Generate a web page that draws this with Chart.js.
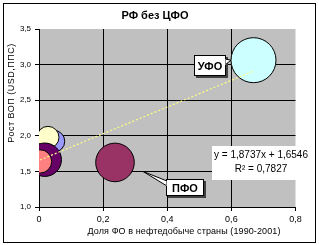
<!DOCTYPE html>
<html>
<head>
<meta charset="utf-8">
<script src="https://cdn.jsdelivr.net/npm/chart.js@4.4.1/dist/chart.umd.min.js"></script>
<style>
  html, body { margin: 0; padding: 0; background: #fff; }
  #wrap { width: 319px; height: 245px; }
</style>
</head>
<body>
<div id="wrap"><canvas id="chart" width="319" height="245"></canvas></div>
<script>
// bubbles, listed from the back to the front
const districts = ['СФО', 'УФО', 'ПФО', 'СЗФО', 'ЮФО', 'ДФО'];
const oilShare = [0.046, 0.669, 0.237, 0.028, 0.018, 0.003];
const grpGrowth = [1.923, 3.062, 1.626, 1.978, 1.664, 1.640];
const bubbleSize = [11, 22.5, 19.3, 11, 16.7, 11.7];
const bubbleColors = ['#9999FF', '#CCFFFF', '#993366', '#FFFFCC', '#660066', '#FF8080'];
const labelled = ['УФО', 'ПФО'];

// linear trend shown on the chart
const trendSlope = 1.8737;
const trendIntercept = 1.6546;
const trendR2 = 0.7827;

const xTicks = [0, 0.2, 0.4, 0.6, 0.8];
const yTicks = [1.0, 1.5, 2.0, 2.5, 3.0, 3.5];

const FONT = '"Liberation Sans", Arial, sans-serif';
const comma = v => v.toFixed(4).replace('.', ',');

const bubbles = districts.map((d, i) => ({ x: oilShare[i], y: grpGrowth[i], r: bubbleSize[i] }));
const xMin = Math.min(...oilShare);
const xMax = Math.max(...oilShare);
const trend = [xMin, xMax].map(x => ({ x, y: trendSlope * x + trendIntercept }));

function callout(ctx, text, bx, by, bw, bh, tip, base1, base2) {
  // shadow
  ctx.fillStyle = '#404040';
  ctx.fillRect(bx + 2, by + 2, bw, bh);
  // wedge
  ctx.beginPath();
  ctx.moveTo(base1[0], base1[1]);
  ctx.lineTo(tip[0], tip[1]);
  ctx.lineTo(base2[0], base2[1]);
  ctx.closePath();
  ctx.fillStyle = '#fff';
  ctx.fill();
  ctx.strokeStyle = '#000';
  ctx.lineWidth = 1;
  ctx.stroke();
  // box
  ctx.fillStyle = '#fff';
  ctx.fillRect(bx, by, bw, bh);
  ctx.strokeRect(bx + 0.5, by + 0.5, bw - 1, bh - 1);
  // cover wedge joint
  ctx.beginPath();
  ctx.moveTo(base1[0], base1[1]);
  ctx.lineTo(base2[0], base2[1]);
  ctx.strokeStyle = '#fff';
  ctx.stroke();
  ctx.fillStyle = '#000';
  ctx.font = 'bold 11px ' + FONT;
  ctx.textAlign = 'center';
  ctx.textBaseline = 'middle';
  ctx.fillText(text, bx + bw / 2, by + bh / 2 + 1);
}

const decor = {
  id: 'decor',
  beforeDraw(chart) {
    const { ctx, chartArea: a } = chart;
    ctx.save();
    ctx.fillStyle = '#fff';
    ctx.fillRect(0, 0, chart.width, chart.height);
    ctx.strokeStyle = '#000';
    ctx.lineWidth = 1;
    ctx.strokeRect(3.5, 3.5, 312, 239);
    ctx.fillStyle = '#C0C0C0';
    ctx.fillRect(a.left, a.top, a.right - a.left, a.bottom - a.top);
    ctx.restore();
  },
  afterDraw(chart) {
    const { ctx } = chart;
    const xs = chart.scales.x, ys = chart.scales.y;
    ctx.save();
    ctx.fillStyle = '#000';
    ctx.textAlign = 'center';
    ctx.textBaseline = 'middle';
    ctx.font = 'bold 11px ' + FONT;
    ctx.fillText('РФ без ЦФО', 155, 16);

    ctx.font = '9px ' + FONT;
    ctx.letterSpacing = '0.1px';
    ctx.fillText('Доля ФО в нефтедобыче страны (1990-2001)', 184, 232);
    ctx.letterSpacing = '0.5px';
    ctx.save();
    ctx.translate(12, 93);
    ctx.rotate(-Math.PI / 2);
    ctx.fillText('Рост ВОП (USD,ППС)', 0, 0);
    ctx.restore();
    ctx.letterSpacing = '0px';

    // equation box
    ctx.fillStyle = '#fff';
    ctx.fillRect(212, 146, 98, 34);
    ctx.fillStyle = '#000';
    ctx.font = '10px ' + FONT;
    ctx.fillText('y = ' + comma(trendSlope) + 'x + ' + comma(trendIntercept), 261, 155);
    ctx.fillText('R² = ' + comma(trendR2), 261, 169);

    // callouts
    const iU = districts.indexOf(labelled[0]);
    const ux = xs.getPixelForValue(oilShare[iU]) - bubbleSize[iU];
    const uy = ys.getPixelForValue(grpGrowth[iU]);
    callout(ctx, labelled[0], 194, 55, 32, 21, [ux, uy], [225, 59], [225, 65]);

    const iP = districts.indexOf(labelled[1]);
    const px = xs.getPixelForValue(oilShare[iP]) + 28;
    const py = ys.getPixelForValue(grpGrowth[iP]) + 9;
    callout(ctx, labelled[1], 166, 179, 38, 17, [px, py], [167, 181], [167, 186]);
    ctx.restore();
  }
};

new Chart(document.getElementById('chart'), {
  type: 'bubble',
  data: {
    datasets: [
      {
        type: 'line',
        data: trend,
        borderColor: '#FFFF80',
        borderWidth: 1.2,
        borderDash: [2, 2],
        pointRadius: 0,
        fill: false
      },
      {
        data: bubbles,
        backgroundColor: bubbleColors,
        borderColor: '#000',
        borderWidth: 1,
        clip: 0
      }
    ]
  },
  options: {
    responsive: false,
    animation: false,
    events: [],
    layout: { padding: { left: 0, top: 29, right: 12, bottom: 0 } },
    plugins: { legend: { display: false }, tooltip: { enabled: false } },
    scales: {
      x: {
        type: 'linear',
        min: 0,
        max: 0.8,
        afterFit: s => { s.height = 38; },
        afterBuildTicks: s => { s.ticks = xTicks.map(v => ({ value: v })); },
        grid: {
          color: c => (c.tick && c.tick.value === 0.8 ? 'rgba(0,0,0,0)' : '#000'),
          tickColor: '#000',
          tickLength: 4,
          lineWidth: 1
        },
        border: { color: '#000' },
        ticks: {
          color: '#000',
          padding: 3,
          maxRotation: 0,
          font: { family: FONT, size: 9 },
          callback: v => (v === 0 ? '0' : v.toFixed(1).replace('.', ','))
        }
      },
      y: {
        type: 'linear',
        min: 1,
        max: 3.5,
        afterFit: s => { s.width = 39; },
        afterBuildTicks: s => { s.ticks = yTicks.map(v => ({ value: v })); },
        grid: {
          color: c => (c.tick && c.tick.value === 3.5 ? 'rgba(0,0,0,0)' : '#000'),
          tickColor: '#000',
          tickLength: 4,
          lineWidth: 1
        },
        border: { color: '#000' },
        ticks: {
          color: '#000',
          padding: 4,
          font: { family: FONT, size: 8 },
          callback: v => v.toFixed(1).replace('.', ',')
        }
      }
    }
  },
  plugins: [decor]
});
</script>
</body>
</html>
